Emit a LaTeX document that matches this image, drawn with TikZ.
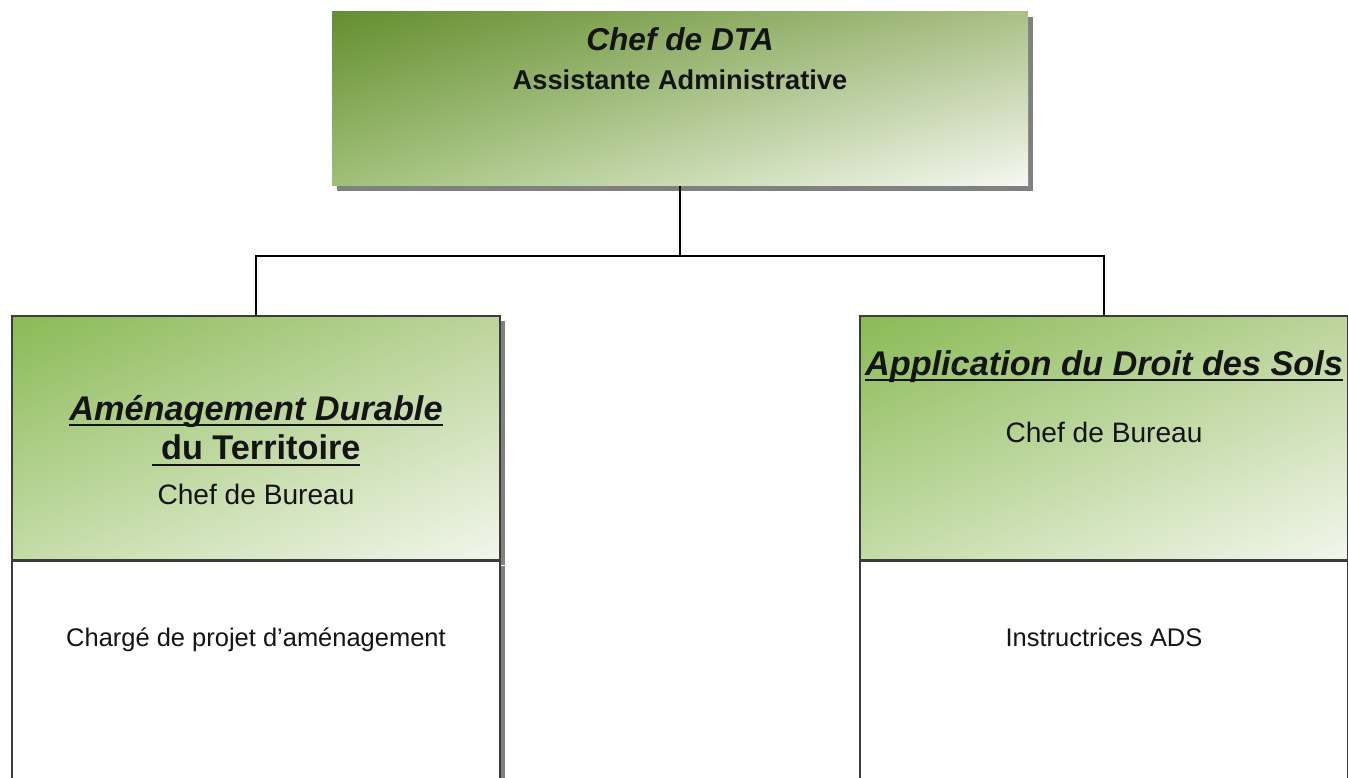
\documentclass[tikz,border=0pt]{standalone}
\usepackage{fontspec}
\setmainfont{Liberation Sans}
\newcommand{\thickul}[1]{\leavevmode\setbox0\hbox{#1}\rlap{\copy0}\rule[-3.2pt]{\wd0}{1.1pt}}
\usetikzlibrary{positioning, shadows, shadings}

\definecolor{topUL}{RGB}{100,143,48}
\definecolor{topUR}{RGB}{170,192,135}
\definecolor{topLL}{RGB}{160,192,120}
\definecolor{topLR}{RGB}{246,248,242}
\definecolor{headUL}{RGB}{138,186,86}
\definecolor{headUR}{RGB}{188,212,155}
\definecolor{headLL}{RGB}{196,220,168}
\definecolor{headLR}{RGB}{242,246,236}
\definecolor{boxline}{RGB}{60,60,60}
\definecolor{txt}{RGB}{20,20,20}

\tikzset{
  boxshadow/.style={drop shadow={shadow xshift=0.1cm, shadow yshift=-0.1cm, fill=black!50, opacity=1}},
  topbox/.style={rectangle, inner sep=0pt, minimum width=13.92cm, minimum height=3.48cm,
    shade, upper left=topUL, upper right=topUR, lower left=topLL, lower right=topLR, boxshadow},
  headbox/.style={rectangle, inner sep=0pt, minimum width=9.76cm, minimum height=4.88cm,
    draw=boxline, line width=0.8pt, shade, upper left=headUL, upper right=headUR,
    lower left=headLL, lower right=headLR, boxshadow},
  lowbox/.style={rectangle, inner sep=0pt, minimum width=9.76cm, minimum height=4.4cm,
    draw=boxline, line width=0.8pt, fill=white, boxshadow},
  link/.style={black, line width=0.6pt},
  label/.style={anchor=base, text=txt, inner sep=0pt},
}

\begin{document}
\begin{tikzpicture}
  \useasboundingbox (0,0) rectangle (26.96,15.56);

  % Top: Chef de DTA
  \node[topbox] (dta) at (13.6,13.58) {};
  \node[label, font=\bfseries\itshape\fontsize{18}{22}\selectfont] (dtachef) at (13.6,14.54) {Chef de DTA};
  \node[label, font=\bfseries\fontsize{15.5}{19}\selectfont] (dtaassist) at (13.6,13.76) {Assistante Administrative};

  % Left: Amenagement Durable du Territoire
  \node[headbox] (adt) at (5.12,6.8) {};
  \node[lowbox, below=0pt of adt] (adtlow) {};
  \node[label, font=\bfseries\itshape\fontsize{19.5}{23}\selectfont] (adttitle) at (5.12,7.15) {\thickul{Aménagement Durable}};
  \node[label, font=\bfseries\fontsize{19.5}{23}\selectfont] (adtsub) at (5.12,6.36) {\thickul{~du Territoire}};
  \node[label, font=\fontsize{16}{19}\selectfont] (adtchef) at (5.12,5.46) {Chef de Bureau};
  \node[label, font=\fontsize{14.5}{17}\selectfont] (adtstaff) at (5.12,2.62) {Chargé de projet d'aménagement};

  % Right: Application du Droit des Sols
  \node[headbox] (ads) at (22.08,6.8) {};
  \node[lowbox, below=0pt of ads] (adslow) {};
  \node[label, font=\bfseries\itshape\fontsize{19.5}{23}\selectfont] (adstitle) at (22.08,8.05) {\thickul{Application du Droit des Sols}};
  \node[label, font=\fontsize{16}{19}\selectfont] (adschef) at (22.08,6.7) {Chef de Bureau};
  \node[label, font=\fontsize{14.5}{17}\selectfont] (adsstaff) at (22.08,2.62) {Instructrices ADS};

  % Links
  \coordinate (split) at (13.6,10.44);
  \draw[link] (dta.south) -- (split);
  \draw[link] (split) -| (adt.north);
  \draw[link] (split) -| (ads.north);
\end{tikzpicture}
\end{document}
